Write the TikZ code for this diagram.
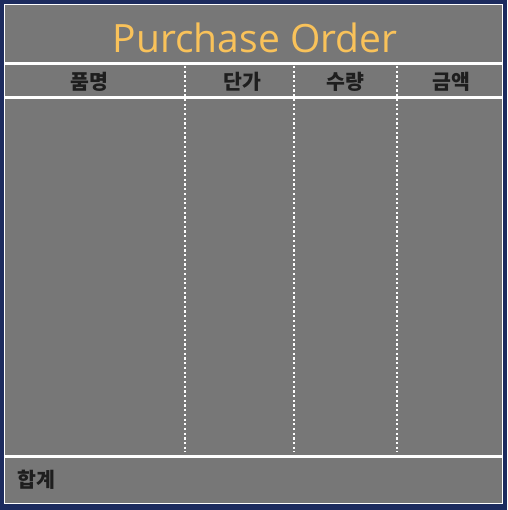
\documentclass[tikz,border=0pt]{standalone}
\usepackage{fontspec}
\newfontfamily\titlefont{Open Sans}
\newfontfamily\krfont{Noto Sans CJK KR Black}
\definecolor{navy}{HTML}{1C2B5E}
\definecolor{panel}{HTML}{777777}
\definecolor{gold}{HTML}{F9C25A}
\definecolor{ink}{HTML}{1E1E1E}
\begin{document}
\begin{tikzpicture}[x=1pt,y=-1pt,
  rule/.style={draw=white,line width=3pt},
  coldiv/.style={draw=white,line width=2.4pt,dash pattern=on 2.2pt off 2.5pt},
  head/.style={font=\krfont\fontsize{20.5}{20.5}\selectfont,text=ink,inner sep=0pt},
  ttl/.style={font=\titlefont\fontsize{39}{39}\selectfont,text=gold,inner sep=0pt}]
\useasboundingbox (0,0) rectangle (507,510);
\fill[navy] (0,0) rectangle (507,510);
\fill[panel,draw=white,line width=1.5pt] (4.5,4.5) rectangle (502.5,503.5);
% horizontal rules
\draw[rule] (4.5,64) -- (502.5,64);
\draw[rule] (4.5,97.5) -- (502.5,97.5);
\draw[rule] (4.5,456) -- (502.5,456);
% column dividers
\coordinate (c1t) at (185,66); \coordinate (c1b) at (185,452);
\coordinate (c2t) at (294,66); \coordinate (c2b) at (294,452);
\coordinate (c3t) at (397,66); \coordinate (c3b) at (397,452);
\draw[coldiv] (c1t) -- (c1b);
\draw[coldiv] (c2t) -- (c2b);
\draw[coldiv] (c3t) -- (c3b);
% texts
\node[ttl] (title) at (255,37.5) {Purchase Order};
\node[head] (h1) at (89,82) {품명};
\node[head] (h2) at (242,82) {단가};
\node[head] (h3) at (345,82) {수량};
\node[head] (h4) at (451,82) {금액};
\node[head,anchor=west] (total) at (17,480) {합계};
\end{tikzpicture}
\end{document}
